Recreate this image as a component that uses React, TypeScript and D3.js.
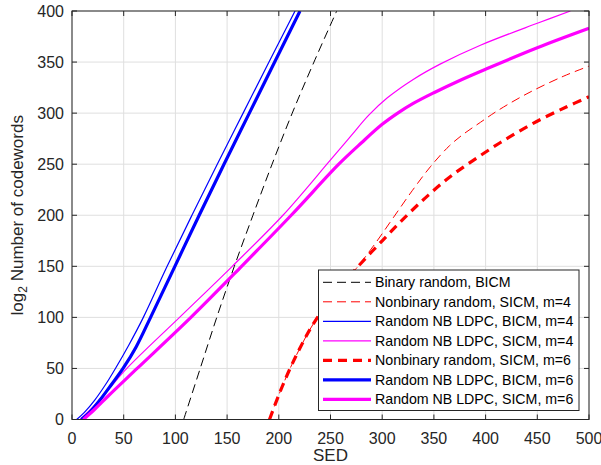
import React from "react";
import * as d3 from "d3";

// ---------- data (SED, log2 number of codewords) ----------
const binaryRandomSED = [108, 124, 140, 157, 175, 193.5, 213, 234, 256];
const binaryRandomLog2 = [0, 50, 100, 150, 200, 250, 300, 350, 400];

const nbRandomM4SED = [191, 200, 210, 220, 230, 240, 250, 262, 275, 293, 311, 329, 347, 365, 378, 395, 411, 440, 475, 500];
const nbRandomM4Log2 = [0, 24, 48, 69, 88, 104, 118, 133, 148, 172, 198, 224, 248, 268, 279, 291, 302, 319, 336, 346];

const ldpcBicmM4SED = [4.5, 12, 22, 32, 42, 55, 69, 92, 116, 140.5, 165.5, 190.5, 215.7];
const ldpcBicmM4Log2 = [0, 7, 19, 33.5, 50, 73, 100, 150, 200, 250, 300, 350, 400];

const ldpcSicmM4SED = [8, 20, 35, 53, 104, 155, 204, 249, 270, 287, 305, 330, 356, 395, 450, 482];
const ldpcSicmM4Log2 = [0, 12, 29, 50, 100, 150, 200, 253, 278, 298, 315, 333, 348, 366.5, 388, 400];

const nbRandomM6SED = [191, 200, 210, 220, 230, 240, 250, 262, 275, 300, 324, 345, 366, 387, 414, 446, 478, 500];
const nbRandomM6Log2 = [0, 24, 48, 69, 88, 104, 118, 133, 148, 175, 200, 220, 238, 253, 271, 290, 306, 316];

const ldpcBicmM6SED = [9, 17, 27, 38, 50, 62, 76, 99.5, 123, 147, 171.5, 196, 220.5];
const ldpcBicmM6Log2 = [0, 7, 19, 34, 51, 71, 100, 150, 200, 250, 300, 350, 400];

const ldpcSicmM6SED = [11, 22, 35, 63, 115, 164, 212, 258, 280, 300, 315, 330, 350, 375, 400, 450, 500];
const ldpcSicmM6Log2 = [0, 10, 23, 50, 100, 150, 200, 250, 271, 289, 300, 309.5, 320, 332, 343, 364, 383];

const xTicks = [0, 50, 100, 150, 200, 250, 300, 350, 400, 450, 500];
const yTicks = [0, 50, 100, 150, 200, 250, 300, 350, 400];

const seriesNames = [
  "Binary random, BICM",
  "Nonbinary random, SICM, m=4",
  "Random NB LDPC, BICM, m=4",
  "Random NB LDPC, SICM, m=4",
  "Nonbinary random, SICM, m=6",
  "Random NB LDPC, BICM, m=6",
  "Random NB LDPC, SICM, m=6",
];

const seriesData = [
  [binaryRandomSED, binaryRandomLog2],
  [nbRandomM4SED, nbRandomM4Log2],
  [ldpcBicmM4SED, ldpcBicmM4Log2],
  [ldpcSicmM4SED, ldpcSicmM4Log2],
  [nbRandomM6SED, nbRandomM6Log2],
  [ldpcBicmM6SED, ldpcBicmM6Log2],
  [ldpcSicmM6SED, ldpcSicmM6Log2],
];

const styles = [
  { color: "#000000", width: 1, dash: "9,5" },
  { color: "#ff0000", width: 1, dash: "9,5" },
  { color: "#0000ff", width: 1.2, dash: null },
  { color: "#ff00ff", width: 1.2, dash: null },
  { color: "#ff0000", width: 3.2, dash: "9,6" },
  { color: "#0000ff", width: 3.2, dash: null },
  { color: "#ff00ff", width: 3.2, dash: null },
];

export default function App() {
  const W = 601, H = 465;
  const left = 72, right = 589, top = 11, bottom = 419.5;
  const x = d3.scaleLinear().domain([0, 500]).range([left, right]);
  const y = d3.scaleLinear().domain([0, 400]).range([bottom, top]);
  const axisColor = "#262626";
  const gridColor = "#dfdfdf";
  const font = "'Liberation Sans', Arial, Helvetica, sans-serif";

  const line = d3
    .line<[number, number]>()
    .x((d) => x(d[0]))
    .y((d) => y(d[1]))
    .curve(d3.curveCatmullRom.alpha(0.5));

  const legX = 318.5, legY = 270, legW = 260.5, legH = 140.5;
  const rowH = 19.5;

  return (
    <svg
      width={W}
      height={H}
      style={{ position: "absolute", left: 0, top: 0, background: "#fff" }}
      fontFamily={font}
    >
      <defs>
        <clipPath id="plotclip">
          <rect x={left} y={top} width={right - left} height={bottom - top} />
        </clipPath>
      </defs>
      <rect x={0} y={0} width={W} height={H} fill="#fff" />
      {/* grid */}
      {xTicks.map((t) => (
        <line key={"gx" + t} x1={x(t)} x2={x(t)} y1={top} y2={bottom} stroke={gridColor} strokeWidth={1} />
      ))}
      {yTicks.map((t) => (
        <line key={"gy" + t} x1={left} x2={right} y1={y(t)} y2={y(t)} stroke={gridColor} strokeWidth={1} />
      ))}
      {/* series */}
      <g clipPath="url(#plotclip)">
        {seriesData.map((s, i) => {
          const pts: [number, number][] = s[0].map((v, j) => [v, s[1][j]]);
          const st = styles[i];
          return (
            <path
              key={"s" + i}
              d={line(pts) || ""}
              fill="none"
              stroke={st.color}
              strokeWidth={st.width}
              strokeDasharray={st.dash || undefined}
            />
          );
        })}
      </g>
      {/* axes box */}
      <rect x={left} y={top} width={right - left} height={bottom - top} fill="none" stroke={axisColor} strokeWidth={1} />
      {xTicks.map((t) => (
        <g key={"xt" + t}>
          <line x1={x(t)} x2={x(t)} y1={bottom} y2={bottom - 5} stroke={axisColor} />
          <line x1={x(t)} x2={x(t)} y1={top} y2={top + 5} stroke={axisColor} />
          <text x={x(t)} y={443.5} textAnchor="middle" fontSize={16} fill={axisColor}>
            {t}
          </text>
        </g>
      ))}
      {yTicks.map((t) => (
        <g key={"yt" + t}>
          <line x1={left} x2={left + 5} y1={y(t)} y2={y(t)} stroke={axisColor} />
          <line x1={right} x2={right - 5} y1={y(t)} y2={y(t)} stroke={axisColor} />
          <text x={64} y={y(t) + 5.8} textAnchor="end" fontSize={16} fill={axisColor}>
            {t}
          </text>
        </g>
      ))}
      {/* axis labels */}
      <text x={(left + right) / 2} y={461} textAnchor="middle" fontSize={17} fill={axisColor}>
        SED
      </text>
      <text
        transform={`translate(23, ${(top + bottom) / 2}) rotate(-90)`}
        textAnchor="middle"
        fontSize={17}
        fill={axisColor}
      >
        log
        <tspan fontSize={12} dy={4}>2</tspan>
        <tspan dy={-4}> Number of codewords</tspan>
      </text>
      {/* legend */}
      <rect x={legX} y={legY} width={legW} height={legH} fill="#fff" stroke={axisColor} strokeWidth={1} />
      {seriesNames.map((name, i) => {
        const cy = 282.3 + i * rowH;
        const st = styles[i];
        return (
          <g key={"lg" + i}>
            <line
              x1={323}
              x2={371}
              y1={cy}
              y2={cy}
              stroke={st.color}
              strokeWidth={st.width}
              strokeDasharray={st.dash || undefined}
            />
            <text x={375} y={cy + 5} fontSize={14.2} fill="#000">
              {name}
            </text>
          </g>
        );
      })}
    </svg>
  );
}
